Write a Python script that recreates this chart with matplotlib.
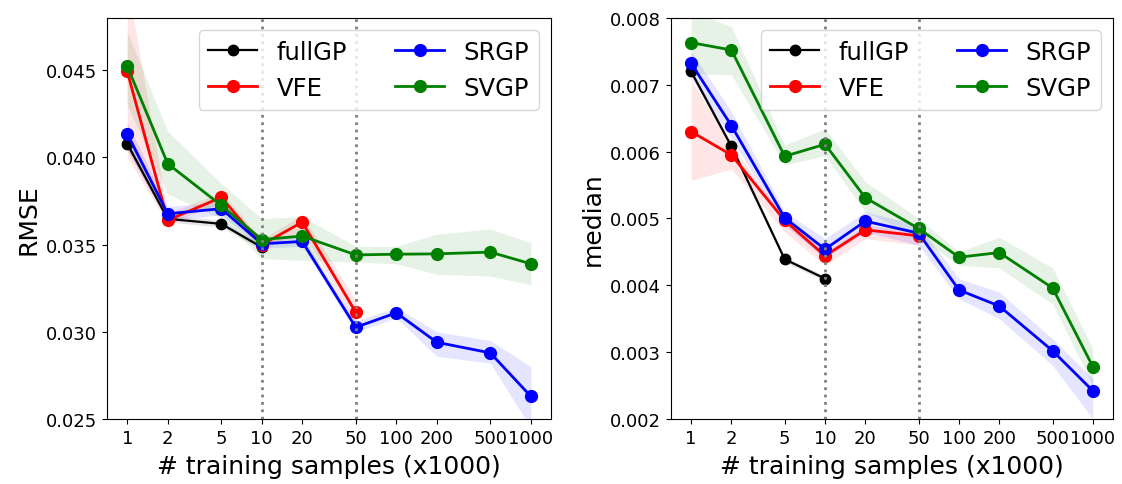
import matplotlib
matplotlib.use("Agg")
import matplotlib.pyplot as plt
from matplotlib.ticker import NullFormatter, NullLocator

x_samples = [1, 2, 5, 10, 20, 50, 100, 200, 500, 1000]
x_ticklabels = ["1", "2", "5", "10", "20", "50", "100", "200", "500", "1000"]

# ---- RMSE (left) ----
rmse_fullGP = [0.04079, 0.03648, 0.03619, 0.03485]
rmse_fullGP_lo = [0.0404, 0.0363, 0.0360, 0.0347]
rmse_fullGP_hi = [0.0412, 0.0367, 0.0364, 0.0350]

rmse_VFE = [0.04494, 0.03640, 0.03771, 0.03499, 0.03629, 0.03112]
rmse_VFE_lo = [0.0400, 0.0362, 0.0374, 0.0347, 0.0358, 0.0305]
rmse_VFE_hi = [0.0500, 0.0368, 0.0380, 0.0353, 0.0367, 0.0318]

rmse_SRGP = [0.04136, 0.03677, 0.03706, 0.03505, 0.03518, 0.03026, 0.03109, 0.02940, 0.02879, 0.02630]
rmse_SRGP_lo = [0.0405, 0.0364, 0.0367, 0.0348, 0.0349, 0.0300, 0.0308, 0.0286, 0.0282, 0.0245]
rmse_SRGP_hi = [0.0420, 0.0372, 0.0374, 0.0353, 0.0355, 0.0306, 0.0314, 0.0300, 0.0295, 0.0280]

rmse_SVGP = [0.04523, 0.03964, 0.03725, 0.03529, 0.03549, 0.03441, 0.03445, 0.03447, 0.03457, 0.03390]
rmse_SVGP_lo = [0.0430, 0.0379, 0.0365, 0.0342, 0.0341, 0.0340, 0.0339, 0.0333, 0.0332, 0.0327]
rmse_SVGP_hi = [0.0472, 0.0415, 0.0385, 0.0365, 0.0366, 0.0349, 0.0349, 0.0356, 0.0359, 0.0351]

# ---- median (right) ----
med_fullGP = [0.00720, 0.00608, 0.00439, 0.00410]
med_fullGP_lo = [0.00715, 0.00603, 0.00435, 0.00406]
med_fullGP_hi = [0.00725, 0.00613, 0.00443, 0.00414]

med_VFE = [0.00630, 0.00595, 0.00497, 0.00444, 0.00483, 0.00474]
med_VFE_lo = [0.00557, 0.00574, 0.00480, 0.00430, 0.00470, 0.00460]
med_VFE_hi = [0.00707, 0.00610, 0.00500, 0.00450, 0.00490, 0.00480]

med_SRGP = [0.00732, 0.00639, 0.00501, 0.00454, 0.00496, 0.00478, 0.00393, 0.00369, 0.00302, 0.00242]
med_SRGP_lo = [0.00710, 0.00620, 0.00490, 0.00440, 0.00480, 0.00460, 0.00380, 0.00350, 0.00280, 0.00200]
med_SRGP_hi = [0.00750, 0.00660, 0.00510, 0.00470, 0.00510, 0.00490, 0.00410, 0.00390, 0.00320, 0.00260]

med_SVGP = [0.00763, 0.00752, 0.00593, 0.00611, 0.00531, 0.00485, 0.00442, 0.00449, 0.00396, 0.00278]
med_SVGP_lo = [0.00717, 0.00715, 0.00580, 0.00594, 0.00510, 0.00472, 0.00430, 0.00426, 0.00372, 0.00250]
med_SVGP_hi = [0.00810, 0.00787, 0.00610, 0.00634, 0.00555, 0.00500, 0.00450, 0.00472, 0.00426, 0.00305]

vlines = [10, 50]

series_names = ["fullGP", "VFE", "SRGP", "SVGP"]
colors = {"fullGP": "black", "VFE": "red", "SRGP": "blue", "SVGP": "green"}

fig = plt.figure(figsize=(11.22, 4.85), dpi=100)
axL = fig.add_axes([0.0954, 0.134, 0.3957, 0.827])
axR = fig.add_axes([0.598, 0.134, 0.394, 0.827])

left_data = {
    "fullGP": (rmse_fullGP, rmse_fullGP_lo, rmse_fullGP_hi),
    "VFE": (rmse_VFE, rmse_VFE_lo, rmse_VFE_hi),
    "SRGP": (rmse_SRGP, rmse_SRGP_lo, rmse_SRGP_hi),
    "SVGP": (rmse_SVGP, rmse_SVGP_lo, rmse_SVGP_hi),
}
right_data = {
    "fullGP": (med_fullGP, med_fullGP_lo, med_fullGP_hi),
    "VFE": (med_VFE, med_VFE_lo, med_VFE_hi),
    "SRGP": (med_SRGP, med_SRGP_lo, med_SRGP_hi),
    "SVGP": (med_SVGP, med_SVGP_lo, med_SVGP_hi),
}


def draw(ax, data, ylabel, ylim, yticks, yfmt):
    for name in series_names:
        y, lo, hi = data[name]
        xs = x_samples[:len(y)]
        c = colors[name]
        ax.fill_between(xs, lo, hi, color=c, alpha=0.1, linewidth=0)
        if name == "fullGP":
            ax.plot(xs, y, "-o", color=c, lw=1.6, ms=7.5, label=name, zorder=3)
        else:
            ax.plot(xs, y, "-o", color=c, lw=2.0, ms=8.5, label=name, zorder=3)
    ax.set_xscale("log")
    ax.set_xticks(x_samples)
    ax.set_xticklabels(x_ticklabels)
    ax.xaxis.set_minor_locator(NullLocator())
    ax.xaxis.set_minor_formatter(NullFormatter())
    for v in vlines:
        ax.axvline(v, color="gray", ls=":", lw=2, zorder=4)
    ax.set_ylim(*ylim)
    ax.set_yticks(yticks)
    ax.set_yticklabels([yfmt % t for t in yticks])
    ax.tick_params(labelsize=13)
    ax.set_xlabel("# training samples (x1000)", fontsize=18, labelpad=5)
    ax.set_ylabel(ylabel, fontsize=18)
    ax.legend(loc="upper right", ncol=2, fontsize=17.5).set_zorder(6)


draw(axL, left_data, "RMSE", (0.025, 0.048),
     [0.025, 0.030, 0.035, 0.040, 0.045], "%.3f")
draw(axR, right_data, "median", (0.002, 0.008),
     [0.002, 0.003, 0.004, 0.005, 0.006, 0.007, 0.008], "%.3f")

fig.savefig("out.png", dpi=100)
